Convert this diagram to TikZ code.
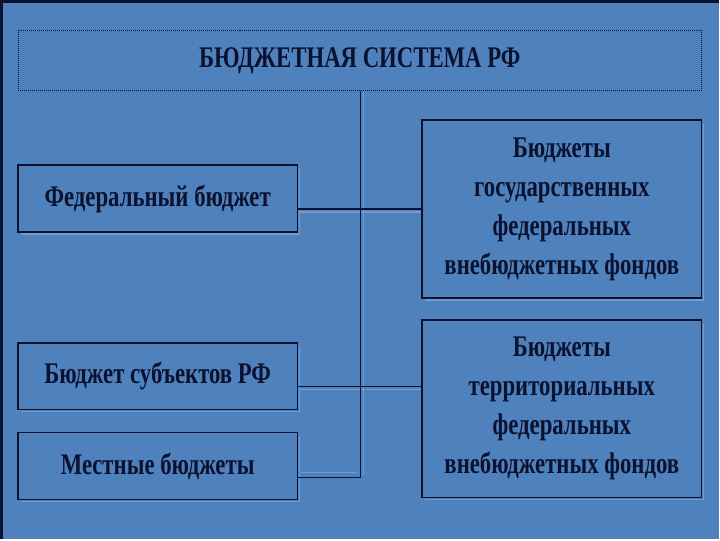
\documentclass[tikz,border=0pt]{standalone}
\usepackage{fontspec}
\setmainfont{Liberation Serif}[FakeStretch=0.76]
\definecolor{bg}{HTML}{4F81BD}
\definecolor{ink}{HTML}{0A1230}
\definecolor{shade}{HTML}{6E9BD3}
\begin{document}
\begin{tikzpicture}[x=1pt,y=-1pt,
  box/.style={draw=ink, line width=1.6pt, rectangle, minimum width=280pt, inner sep=0pt,
    font=\fontsize{30}{39}\selectfont\bfseries, text=ink, align=center},
  conn/.style={draw=ink, line width=1.4pt},
  sh/.style={draw=shade, line width=1.4pt}]
\fill[bg] (0,0) rectangle (720,540);
\draw[ink, line width=3pt] (1.5,540) -- (1.5,1) -- (720,1);
% shadows
\draw[sh] (21,234) -- (300,234) -- (300,168);
\draw[sh] (21,412) -- (300,412) -- (300,346);
\draw[sh] (21,502) -- (300,502) -- (300,436);
\draw[sh] (426,300) -- (705,300) -- (705,123);
\draw[sh] (426,500) -- (705,500) -- (705,323);
\draw[sh] (300,212) -- (423,212);
\draw[sh] (300,390) -- (423,390);
\draw[sh] (302,473) -- (358,473);
\draw[sh] (364,92) -- (364,475);
% nodes
\node[draw=ink, line width=0.9pt, dash pattern=on 1pt off 1pt, rectangle, minimum width=685pt, minimum height=60pt,
  font=\fontsize{30}{32}\selectfont\bfseries, text=ink] (title) at (360.5,60) {БЮДЖЕТНАЯ СИСТЕМА РФ};
\node[box, minimum height=67pt] (fed) at (158,198.5) {Федеральный бюджет};
\node[box, minimum height=67pt] (subj) at (158,376.5) {Бюджет субъектов РФ};
\node[box, minimum height=67pt] (loc) at (158,466.5) {Местные бюджеты};
\node[box, minimum height=178pt] (r1) at (563,209) {Бюджеты\\государственных\\федеральных\\внебюджетных фондов};
\node[box, minimum height=178pt] (r2) at (563,409) {Бюджеты\\территориальных\\федеральных\\внебюджетных фондов};
\coordinate (j) at (361,478);
\coordinate (h2) at (361,387);
\draw[conn] (title.south -| j) -- (j);
\draw[conn] (fed.east |- r1.west) -- (r1.west);
\draw[conn] (subj.east |- h2) -- (r2.west |- h2);
\draw[conn] (loc.east |- j) -- (j);
\end{tikzpicture}
\end{document}
